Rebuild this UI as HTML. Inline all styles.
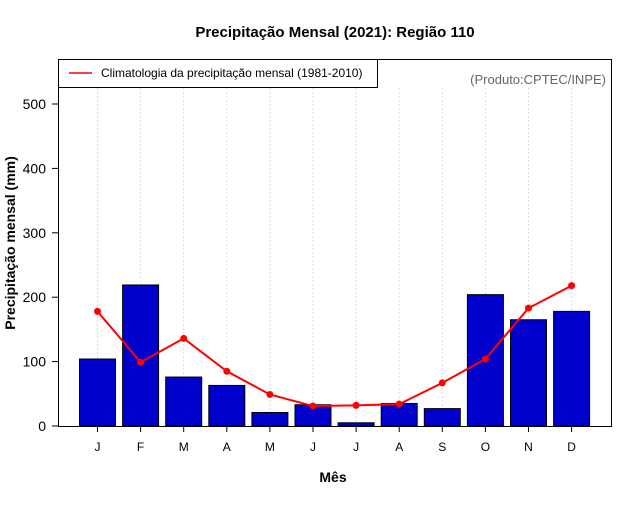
<!DOCTYPE html>
<html><head><meta charset="utf-8"><style>body{margin:0;background:#fff}svg text{font-family:"Liberation Sans",sans-serif}</style></head>
<body>
<svg id="c" width="640" height="500" xmlns="http://www.w3.org/2000/svg">
<text x="335" y="37" text-anchor="middle" font-size="15" font-weight="bold">Precipitação Mensal (2021): Região 110</text>
<text x="333" y="482" text-anchor="middle" font-size="14" font-weight="bold">Mês</text>
<text transform="translate(15,243) rotate(-90)" text-anchor="middle" font-size="14" font-weight="bold">Precipitação mensal (mm)</text>
<text x="606" y="84" text-anchor="end" font-size="13" fill="#666">(Produto:CPTEC/INPE)</text>
<g id="grid"></g><g id="bars"></g><g id="line"></g><g id="axes"></g>
<rect x="58.5" y="59.5" width="553" height="367" fill="none" stroke="#000"/>
<g>
<rect x="58.5" y="59.5" width="319" height="28" fill="#fff" stroke="#000"/>
<line x1="69" y1="73" x2="92" y2="73" stroke="red" stroke-width="1.5"/>
<text x="101" y="77" font-size="12">Climatologia da precipitação mensal (1981-2010)</text>
</g>
</svg>
<script>
const months=["J","F","M","A","M","J","J","A","S","O","N","D"];
const precip=[104,219,76,63,21,33,5,35,27,204,165,178];
const clim=[178,99,136,85,49,31,32,34,67,104,183,218];
const yTicks=[0,100,200,300,400,500];
const NS="http://www.w3.org/2000/svg";
const x=i=>97.5+i*43.1, y=v=>426-v*0.644;
function mk(t,a,p){const e=document.createElementNS(NS,t);for(const k in a)e.setAttribute(k,a[k]);document.getElementById(p).appendChild(e);return e;}
months.forEach((m,i)=>{
 const g=mk("line",{x1:x(i),x2:x(i),y1:88,y2:426,stroke:"#ddd","stroke-dasharray":"2,2"},"grid");
 
 
 const b=mk("rect",{x:x(i)-18,y:y(precip[i]),width:36,height:426-y(precip[i]),fill:"#0000cc",stroke:"#000"},"bars");
 
 
 const t=mk("line",{x1:x(i),x2:x(i),y1:426,y2:432,stroke:"#000"},"axes");
 
 
 const l=mk("text",{x:x(i),y:451,"text-anchor":"middle","font-size":12},"axes");l.textContent=m;
 
 
});
const pl=mk("polyline",{points:clim.map((v,i)=>x(i)+","+y(v)).join(" "),fill:"none",stroke:"red","stroke-width":2},"line");


clim.forEach((v,i)=>{const c=mk("circle",{cx:x(i),cy:y(v),r:3.5,fill:"red"},"line");
 
 });
yTicks.forEach(v=>{
 const t=mk("line",{x1:52,x2:58,y1:y(v),y2:y(v),stroke:"#000"},"axes");
 
 
 const l=mk("text",{x:46,y:y(v)+5,"text-anchor":"end","font-size":14},"axes");l.textContent=v;
 
 
});
</script>
</body></html>
